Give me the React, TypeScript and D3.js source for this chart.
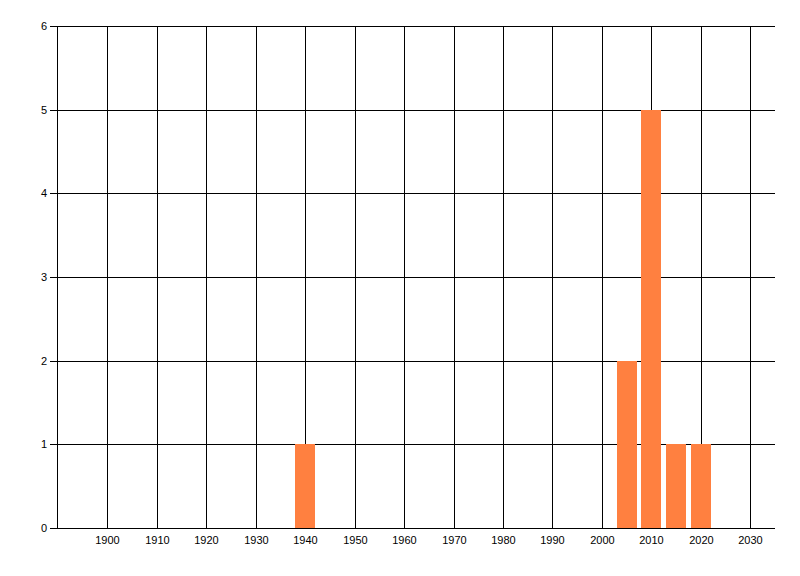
import { useEffect, useRef } from 'react'
import * as d3 from 'd3'

const YEARS = [1940, 2005, 2010, 2015, 2020]
const COUNTS = [1, 2, 5, 1, 1]
const X_TICKS = [1900, 1910, 1920, 1930, 1940, 1950, 1960, 1970, 1980, 1990, 2000, 2010, 2020, 2030]
const Y_TICKS = [0, 1, 2, 3, 4, 5, 6]

export default function App() {
  const svgRef = useRef<SVGSVGElement>(null)

  useEffect(() => {
    const el = svgRef.current
    if (!el) return
    const W = 800
    const H = 576
    const left = 57, right = 775, top = 26, bottom = 528

    const svg = d3.select(el).attr('width', W).attr('height', H)
    svg.selectAll('*').remove()

    const x = d3.scaleLinear().domain([1889.8, 2035]).range([left, right])
    const y = d3.scaleLinear().domain([0, 6]).range([bottom, top])
    const barW = x(1942) - x(1938)

    const g = svg.append('g').attr('shape-rendering', 'crispEdges')

    // horizontal grid + y ticks
    Y_TICKS.forEach((t) => {
      const yy = Math.round(y(t)) + 0.5
      g.append('line').attr('x1', left - 7).attr('x2', right).attr('y1', yy).attr('y2', yy)
        .attr('stroke', '#000').attr('stroke-width', 1)
      svg.append('text').attr('x', left - 10).attr('y', yy).attr('dy', '0.35em')
        .attr('text-anchor', 'end').attr('font-family', 'Liberation Sans, Arial, sans-serif')
        .attr('font-size', 11).attr('fill', '#000').text(String(t))
    })

    // vertical grid + x labels
    X_TICKS.forEach((t) => {
      const xx = Math.round(x(t)) + 0.5
      g.append('line').attr('x1', xx).attr('x2', xx).attr('y1', top).attr('y2', bottom)
        .attr('stroke', '#000').attr('stroke-width', 1)
      svg.append('text').attr('x', xx).attr('y', bottom + 12).attr('dy', '0.35em')
        .attr('text-anchor', 'middle').attr('font-family', 'Liberation Sans, Arial, sans-serif')
        .attr('font-size', 11).attr('fill', '#000').text(String(t))
    })

    // left axis line
    g.append('line').attr('x1', left + 0.5).attr('x2', left + 0.5).attr('y1', top).attr('y2', bottom)
      .attr('stroke', '#000').attr('stroke-width', 1)

    // bars
    YEARS.forEach((yr, i) => {
      g.append('rect')
        .attr('x', x(yr) - barW / 2)
        .attr('y', y(COUNTS[i]))
        .attr('width', barW)
        .attr('height', y(0) - y(COUNTS[i]))
        .attr('fill', '#ff8040')
    })

    // bottom axis line on top
    g.append('line').attr('x1', left).attr('x2', right)
      .attr('y1', Math.round(y(0)) + 0.5).attr('y2', Math.round(y(0)) + 0.5)
      .attr('stroke', '#000').attr('stroke-width', 1)
  }, [])

  return (
    <svg ref={svgRef} style={{ position: 'absolute', left: 0, top: 0, background: '#fff' }} />
  )
}
